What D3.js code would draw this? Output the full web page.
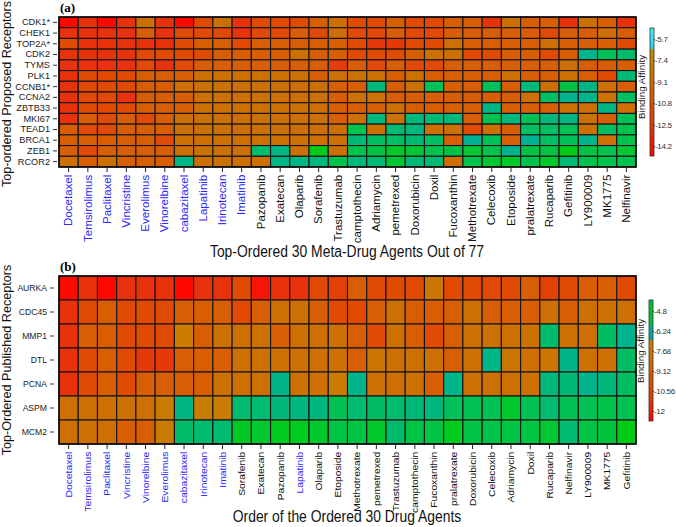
<!DOCTYPE html>
<html><head><meta charset="utf-8">
<script src="https://cdn.jsdelivr.net/npm/d3@7"></script>
<style>
html,body{margin:0;padding:0;background:#fff;}
svg{display:block;font-family:"Liberation Sans",Arial,sans-serif;}
</style></head>
<body><svg id="chart" width="676" height="527"></svg>
<script>
// ---------- data ----------
const receptorsA = ["CDK1*","CHEK1","TOP2A*","CDK2","TYMS","PLK1","CCNB1*","CCNA2","ZBTB33","MKI67","TEAD1","BRCA1","ZEB1","RCOR2"];
const drugsA = ["Docetaxel","Temsirolimus","Paclitaxel","Vincristine","Everolimus","Vinorelbine","cabazitaxel","Lapatinib","Irinotecan","Imatinib","Pazopanib","Exatecan","Olaparib","Sorafenib","Trastuzumab","camptothecin","Adriamycin","pemetrexed","Doxorubicin","Doxil","Fucoxanthin","Methotrexate","Celecoxib","Etoposide","pralatrexate","Rucaparib","Gefitinib","LY900009","MK1775","Nelfinavir"];
const blueDrugsA = ["Docetaxel","Temsirolimus","Paclitaxel","Vincristine","Everolimus","Vinorelbine","cabazitaxel","Lapatinib","Irinotecan","Imatinib"];
const valuesA = [
 [-14.6,-13.3,-14.6,-13.3,-10.2,-13.3,-14.6,-12.2,-10.2,-13.3,-12.2,-12.2,-12.2,-11.2,-10.2,-12.2,-12.2,-11.2,-12.2,-12.2,-11.2,-11.2,-13.3,-10.2,-11.2,-11.2,-13.3,-10.2,-11.2,-13.3],
 [-13.3,-13.3,-13.3,-13.3,-11.2,-13.3,-12.2,-12.2,-12.2,-13.3,-12.2,-12.2,-11.2,-12.2,-10.2,-12.2,-12.2,-11.2,-12.2,-12.2,-11.2,-11.2,-11.2,-11.2,-11.2,-12.2,-11.2,-11.2,-10.2,-11.2],
 [-12.2,-13.3,-13.3,-13.3,-13.3,-13.3,-12.2,-11.2,-11.2,-12.2,-11.2,-11.2,-11.2,-11.2,-11.2,-12.2,-13.0,-13.0,-12.2,-12.2,-10.2,-11.2,-11.2,-11.2,-11.2,-10.2,-11.2,-11.2,-11.2,-12.2],
 [-13.3,-13.3,-13.3,-13.3,-12.2,-12.2,-12.2,-12.2,-11.2,-11.2,-11.2,-11.2,-10.2,-11.2,-11.2,-12.2,-12.2,-12.2,-11.2,-10.2,-10.2,-12.2,-12.2,-11.2,-11.2,-12.2,-11.2,-6.3,-5.7,-5.9],
 [-13.3,-13.3,-13.3,-13.3,-12.2,-13.3,-12.2,-11.2,-11.2,-11.2,-11.2,-11.2,-11.2,-11.2,-12.8,-11.2,-12.2,-11.2,-12.2,-12.2,-11.2,-11.2,-11.2,-11.2,-11.2,-11.2,-10.2,-11.2,-11.2,-11.2],
 [-13.3,-12.2,-12.2,-12.2,-11.2,-11.2,-11.2,-10.2,-10.2,-10.2,-10.2,-10.2,-10.2,-11.2,-10.2,-10.2,-10.2,-11.2,-10.2,-11.2,-11.2,-11.2,-11.2,-10.2,-11.2,-11.2,-10.2,-11.2,-12.2,-6.0],
 [-13.3,-12.2,-12.2,-12.2,-11.2,-11.2,-10.2,-10.2,-10.2,-10.2,-10.2,-10.2,-10.2,-10.2,-11.2,-11.2,-6.1,-11.2,-10.2,-5.7,-11.2,-11.2,-5.7,-11.2,-6.1,-10.2,-5.5,-6.2,-10.2,-11.2],
 [-13.3,-12.2,-12.2,-13.3,-11.2,-11.2,-11.2,-10.2,-10.2,-10.2,-10.2,-10.2,-10.2,-10.2,-11.2,-10.2,-10.2,-11.2,-11.2,-11.2,-11.2,-11.2,-11.2,-11.2,-10.2,-5.8,-6.3,-6.3,-10.2,-5.8],
 [-13.3,-12.2,-12.2,-12.2,-11.2,-11.2,-11.2,-10.2,-10.2,-10.2,-10.2,-10.2,-10.2,-10.2,-11.2,-11.2,-11.2,-10.2,-11.2,-11.2,-11.2,-11.2,-6.2,-11.2,-11.2,-11.2,-10.2,-10.2,-6.2,-10.2],
 [-13.3,-11.2,-12.2,-11.2,-12.2,-11.2,-10.2,-10.2,-10.2,-10.2,-10.2,-10.2,-10.2,-10.2,-11.2,-10.2,-6.1,-10.2,-6.1,-6.0,-6.1,-11.2,-5.6,-6.1,-5.7,-6.1,-6.2,-10.2,-11.2,-5.7],
 [-11.2,-12.2,-12.2,-11.2,-11.2,-11.2,-10.2,-10.2,-10.2,-10.2,-10.2,-10.2,-10.2,-10.2,-10.2,-5.6,-10.2,-6.0,-6.1,-10.2,-10.2,-12.2,-10.2,-11.2,-5.8,-5.8,-5.7,-10.2,-5.8,-5.6],
 [-11.2,-11.2,-11.2,-11.2,-11.2,-12.2,-10.2,-10.2,-10.2,-10.2,-10.2,-10.2,-10.2,-10.2,-10.2,-6.0,-5.8,-5.8,-6.0,-5.8,-11.2,-6.4,-5.7,-11.2,-6.4,-5.8,-5.7,-6.3,-10.2,-5.6],
 [-11.2,-12.2,-11.2,-11.2,-11.2,-11.2,-10.2,-10.2,-10.2,-10.2,-5.9,-6.2,-10.2,-5.0,-10.2,-5.6,-5.5,-5.2,-5.3,-5.6,-5.5,-5.3,-5.6,-6.3,-5.5,-5.5,-4.9,-5.5,-5.6,-5.3],
 [-10.2,-11.2,-10.2,-11.2,-11.2,-11.2,-6.2,-10.2,-10.2,-10.2,-10.2,-6.2,-6.2,-6.1,-5.6,-6.1,-6.0,-5.3,-6.0,-6.0,-10.2,-5.6,-5.3,-5.2,-5.6,-5.2,-6.0,-5.6,-5.6,-5.6]
];
const receptorsB = ["AURKA","CDC45","MMP1","DTL","PCNA","ASPM","MCM2"];
const drugsB = ["Docetaxel","Temsirolimus","Paclitaxel","Vincristine","Vinorelbine","Everolimus","cabazitaxel","Irinotecan","Imatinib","Sorafenib","Exatecan","Pazopanib","Lapatinib","Olaparib","Etoposide","Methotrexate","pemetrexed","Trastuzumab","camptothecin","Fucoxanthin","pralatrexate","Doxorubicin","Celecoxib","Adriamycin","Doxil","Rucaparib","Nelfinavir","LY900009","MK1775","Gefitinib"];
const blueDrugsB = ["Docetaxel","Temsirolimus","Paclitaxel","Vincristine","Vinorelbine","Everolimus","cabazitaxel","Irinotecan","Imatinib","Lapatinib"];
const valuesB = [
 [-12.3,-11.4,-12.3,-11.4,-11.4,-11.4,-12.3,-11.4,-11.4,-10.7,-12.0,-11.4,-11.4,-10.7,-11.0,-10.0,-10.7,-10.7,-10.7,-9.0,-10.7,-10.7,-10.7,-10.7,-10.0,-11.0,-10.7,-10.0,-10.0,-10.7],
 [-11.4,-10.7,-10.0,-10.7,-10.7,-10.7,-10.0,-10.0,-10.0,-10.7,-10.0,-9.3,-9.3,-10.0,-10.7,-10.7,-10.0,-9.3,-10.0,-10.0,-10.0,-9.3,-10.0,-10.0,-10.0,-9.3,-10.0,-9.3,-9.3,-9.3],
 [-11.4,-10.0,-10.0,-10.7,-10.7,-10.7,-8.6,-10.0,-9.3,-9.3,-9.3,-10.0,-9.3,-9.3,-9.3,-10.0,-10.7,-9.3,-10.0,-10.7,-10.0,-9.3,-9.3,-9.3,-9.3,-5.9,-9.3,-9.3,-5.8,-6.5],
 [-11.4,-10.7,-10.0,-10.7,-11.2,-11.2,-10.0,-10.0,-10.0,-9.3,-9.3,-9.3,-9.3,-9.3,-9.3,-10.0,-9.0,-9.3,-9.3,-9.3,-10.0,-9.3,-6.4,-9.0,-9.3,-9.0,-6.4,-9.3,-9.3,-5.8],
 [-11.4,-10.7,-10.0,-10.7,-10.0,-10.0,-10.0,-10.0,-9.3,-9.3,-9.3,-6.4,-9.3,-9.3,-8.6,-6.4,-9.3,-9.3,-9.3,-10.0,-6.4,-9.3,-9.3,-9.3,-9.3,-6.2,-6.1,-6.5,-6.2,-5.8],
 [-9.3,-9.3,-9.3,-9.3,-9.3,-8.6,-6.3,-8.6,-8.6,-6.0,-6.0,-6.2,-6.3,-6.2,-5.5,-6.0,-5.8,-6.0,-6.1,-6.2,-5.6,-5.5,-5.5,-5.0,-5.5,-6.0,-5.5,-5.5,-5.4,-5.5],
 [-9.3,-9.3,-9.3,-10.0,-10.0,-8.6,-5.9,-6.0,-6.0,-4.9,-5.0,-4.8,-4.8,-5.0,-5.3,-5.3,-5.0,-5.9,-5.3,-5.3,-4.8,-5.3,-5.4,-5.3,-5.3,-5.1,-6.0,-5.3,-5.2,-4.7]
];
const legendTicksA = [-5.7,-7.4,-9.1,-10.8,-12.5,-14.2];
const legendTicksB = [-4.8,-6.24,-7.68,-9.12,-10.56,-12];
const legendDomainA = [-15.0,-4.83];
const legendDomainB = [-12.72,-4.0];

// ---------- colours ----------
const cellRange = ["#ff0800","#e8320c","#e04a02","#d85e04","#cc7004","#c88000","#c88400","#00a8a0","#00b48e","#00c058","#00cc18"];
const colorA = d3.scaleLinear().domain([-14.6,-13.3,-12.2,-11.2,-10.2,-9.0,-6.9,-6.8,-6.3,-5.7,-5.0]).range(cellRange).clamp(true);
const colorB = d3.scaleLinear().domain([-12.3,-11.4,-10.7,-10.0,-9.3,-8.4,-7.2,-7.1,-6.5,-5.6,-4.7]).range(cellRange).clamp(true);
const legendColorA = d3.scaleLinear()
  .domain([-15,-13.5,-12,-10.5,-9,-7.5,-6.55,-6.5,-4.83])
  .range(["#ff0000","#f02208","#e44000","#da5800","#d06c00","#c98000","#c88c00","#20d8e8","#40f0fc"]);
const legendColorB = d3.scaleLinear()
  .domain([-12.72,-11,-9.5,-8,-6.92,-6.88,-5.82,-5.78,-4.0])
  .range(["#ff0000","#e63800","#d85800","#cc7400","#c88400","#00a898","#00a898","#00c040","#00c030"]);

const svg = d3.select("#chart");
const FONT = '"Liberation Sans",Arial,sans-serif';

function panel(cfg){
  const x = d3.scaleBand().domain(cfg.drugs).range([cfg.x0,cfg.x1]);
  const y = d3.scaleBand().domain(cfg.receptors).range([cfg.y0,cfg.y1]);
  const g = svg.append("g");
  const cells = [];
  cfg.values.forEach((row,i)=>row.forEach((v,j)=>cells.push({r:cfg.receptors[i],d:cfg.drugs[j],v})));
  g.selectAll("rect.cell").data(cells).join("rect")
    .attr("class","cell")
    .attr("x",d=>x(d.d)).attr("y",d=>y(d.r))
    .attr("width",x.bandwidth()).attr("height",y.bandwidth())
    .attr("fill",d=>cfg.color(d.v))
    .attr("stroke","#151515").attr("stroke-width",1.1);
  g.append("rect").attr("x",cfg.x0).attr("y",cfg.y0)
    .attr("width",cfg.x1-cfg.x0).attr("height",cfg.y1-cfg.y0)
    .attr("fill","none").attr("stroke","#000").attr("stroke-width",1.4);

  // left axis
  const ya = svg.append("g").attr("transform",`translate(${cfg.yAxisX},0)`)
    .call(d3.axisLeft(y).tickSize(cfg.yTick).tickPadding(cfg.yPad));
  ya.select(".domain").remove();
  ya.selectAll(".tick line").attr("stroke","#333");
  ya.selectAll("text").attr("font-family",FONT).attr("font-size",cfg.rowFont).attr("fill","#222");

  // bottom axis
  const xa = svg.append("g").attr("transform",`translate(0,${cfg.y1+1})`)
    .call(d3.axisBottom(x).tickSize(cfg.xTick).tickPadding(0));
  xa.select(".domain").remove();
  xa.selectAll(".tick line").attr("stroke","#222");
  xa.selectAll("text")
    .attr("font-family",FONT).attr("font-size",cfg.colFont)
    .attr("transform","scale(1,1.12) rotate(-90)")
    .attr("text-anchor","end")
    .attr("x",-(cfg.xTick+2)).attr("y",0).attr("dy","0.36em")
    .attr("fill",d=>cfg.blue.includes(d)?"#2a2aff":"#111");

  // panel letter
  svg.append("text").attr("x",cfg.x0+1).attr("y",cfg.letterY)
    .attr("font-family",'"Liberation Serif","Times New Roman",serif')
    .attr("font-weight","bold").attr("font-size",13)
    .text(cfg.letter);

  // y title
  svg.append("text")
    .attr("transform",`translate(11,${(cfg.y0+cfg.y1)/2+cfg.yTitleShift}) rotate(-90)`)
    .attr("text-anchor","middle").attr("font-family",FONT).attr("font-size",12.6).attr("fill","#111")
    .text(cfg.yTitle);

  // x title
  svg.append("text")
    .attr("transform",`translate(347,${cfg.xTitleY}) scale(1,1.15)`)
    .attr("text-anchor","middle").attr("font-family",FONT).attr("font-size",13.9).attr("fill","#111")
    .text(cfg.xTitle);

  // colour bar
  const ly = d3.scaleLinear().domain(cfg.legDomain).range([cfg.legY1,cfg.legY0]);
  const gid = "grad"+cfg.letter.replace(/[()]/g,"");
  const grad = svg.append("defs").append("linearGradient").attr("id",gid)
    .attr("x1",0).attr("y1",1).attr("x2",0).attr("y2",0);
  const N = 300;
  d3.range(N+1).forEach(k=>{
    const v = cfg.legDomain[0] + (cfg.legDomain[1]-cfg.legDomain[0])*k/N;
    grad.append("stop").attr("offset",k/N).attr("stop-color",cfg.legColor(v));
  });
  svg.append("rect").attr("x",cfg.legX).attr("y",cfg.legY0)
    .attr("width",4).attr("height",cfg.legY1-cfg.legY0)
    .attr("fill",`url(#${gid})`).attr("stroke","#333").attr("stroke-width",0.8);
  const la = svg.append("g").attr("transform",`translate(${cfg.legX+4},0)`)
    .call(d3.axisRight(ly).tickValues(cfg.legTicks).tickSize(1).tickPadding(0).tickFormat(d=>String(d)));
  la.select(".domain").remove();
  la.selectAll(".tick line").attr("stroke","#333");
  la.selectAll("text").attr("font-family",FONT).attr("font-size",8.1)
    .attr("letter-spacing","-0.35px").attr("fill","#333");
  svg.append("text")
    .attr("transform",`translate(${cfg.legX-5},${cfg.legTitleY}) rotate(-90)`)
    .attr("text-anchor","middle").attr("font-family",FONT).attr("font-size",9.8).attr("fill","#222")
    .text("Binding Affinity");
}

panel({
  letter:"(a)", letterY:12,
  drugs:drugsA, receptors:receptorsA, values:valuesA, color:colorA, blue:blueDrugsA,
  x0:59, x1:636, y0:17, y1:167,
  yAxisX:57, yTick:4, yPad:3, rowFont:9.2,
  xTick:4, colFont:10.3,
  yTitle:"Top-ordered Proposed Receptors", yTitleShift:2,
  xTitle:"Top-Ordered 30 Meta-Drug Agents Out of 77", xTitleY:257,
  legX:650, legY0:28, legY1:156, legDomain:legendDomainA, legColor:legendColorA, legTicks:legendTicksA, legTitleY:87
});
panel({
  letter:"(b)", letterY:271,
  drugs:drugsB, receptors:receptorsB, values:valuesB, color:colorB, blue:blueDrugsB,
  x0:59, x1:636, y0:276, y1:444,
  yAxisX:54, yTick:4, yPad:3, rowFont:8.6,
  xTick:4, colFont:9.2,
  yTitle:"Top-Ordered Published Receptors", yTitleShift:0,
  xTitle:"Order of the Ordered 30 Drug Agents", xTitleY:522,
  legX:649, legY0:300, legY1:421, legDomain:legendDomainB, legColor:legendColorB, legTicks:legendTicksB, legTitleY:351
});
</script></body></html>
